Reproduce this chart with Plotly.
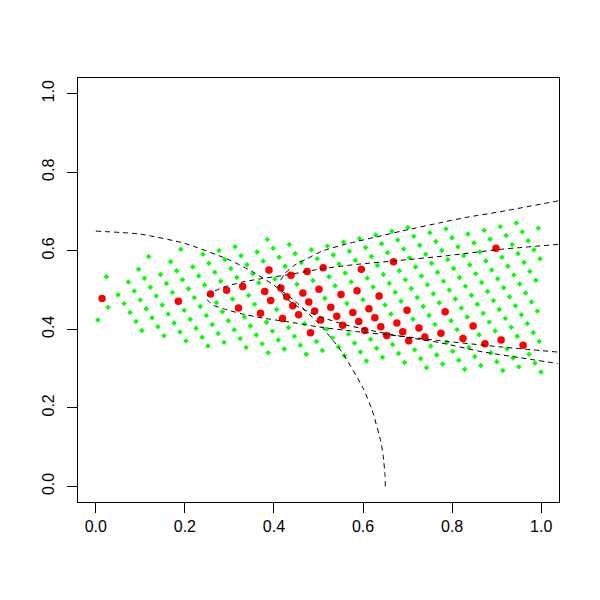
import plotly.graph_objects as go

# ---- data ----
green_x = [0.0236,
           0.0046, 0.0274, 0.0502, 0.0731, 0.0959, 0.1187,
           0.0636, 0.0864, 0.1092,
           0.0769, 0.0997, 0.1225, 0.1453, 0.1681, 0.1910,
           0.0902, 0.1130, 0.1358, 0.1586, 0.1815,
           0.1035, 0.1263, 0.1491, 0.1720, 0.1948, 0.2176, 0.2404,
           0.1396, 0.1625, 0.2081, 0.2309, 0.2537, 0.2766,
           0.1530, 0.1758, 0.1986, 0.2214, 0.2442, 0.2671, 0.2899, 0.3127,
           0.1891, 0.2119, 0.2347, 0.2804, 0.3032, 0.3260,
           0.2024, 0.2252, 0.2481, 0.2709, 0.3165, 0.3393, 0.3622, 0.3850,
           0.2386, 0.2614, 0.2842, 0.3070, 0.3526, 0.3755, 0.3983,
           0.2519, 0.2747, 0.2975, 0.3431, 0.3660, 0.4116, 0.4344,
           0.2880, 0.3108, 0.3336, 0.3565, 0.4021, 0.4249, 0.4477,
           0.3241, 0.3470, 0.4611, 0.4839,
           0.3375, 0.3603, 0.3831, 0.4059, 0.4516, 0.4972, 0.5200,
           0.3736, 0.3964, 0.4877, 0.5333, 0.5562,
           0.3869, 0.4097, 0.4326, 0.5236, 0.5464, 0.5693, 0.5921,
           0.4231, 0.4459, 0.4687, 0.5143, 0.5371, 0.5600, 0.5828, 0.6056, 0.6284,
           0.4592, 0.5733, 0.6189, 0.6417, 0.6646,
           0.4725, 0.4953, 0.5181, 0.5638, 0.6094, 0.6322, 0.6551, 0.6779, 0.7007,
           0.5086, 0.5315, 0.5999, 0.6227, 0.6456, 0.6912, 0.7140,
           0.5448, 0.5676, 0.6589, 0.6817, 0.7045, 0.7273, 0.7501,
           0.5581, 0.5809, 0.6494, 0.6722, 0.6950, 0.7178, 0.7406, 0.7635, 0.7863,
           0.5942, 0.6171, 0.6627, 0.6855, 0.7083, 0.7312, 0.7540, 0.7768, 0.7996,
           0.6076, 0.6304, 0.7217, 0.7445, 0.7673, 0.7901, 0.8129, 0.8357,
           0.6437, 0.6665, 0.7122, 0.7350, 0.7578, 0.7806, 0.8034, 0.8262, 0.8491, 0.8719,
           0.6798, 0.7483, 0.7711, 0.7939, 0.8167, 0.8396, 0.8624, 0.8852, 0.9080,
           0.6931, 0.7160, 0.7616, 0.8072, 0.8301, 0.8529, 0.8757, 0.9213, 0.9441,
           0.7293, 0.7521, 0.7977, 0.8206, 0.8434, 0.8662, 0.8890, 0.9118, 0.9346, 0.9575,
           0.7426, 0.7654, 0.7882, 0.8111, 0.8339, 0.8567, 0.8795, 0.9023, 0.9251, 0.9480, 0.9708, 0.9936,
           0.7787, 0.8016, 0.8700, 0.8928, 0.9156, 0.9385, 0.9613, 0.9841,
           0.8149, 0.8377, 0.8605, 0.8833, 0.9061, 0.9290, 0.9518, 0.9746, 0.9974,
           0.8282, 0.8510, 0.8966, 0.9195, 0.9423, 0.9651, 0.9879,
           0.8643, 0.8872, 0.9328, 0.9556, 0.9784,
           0.9005, 0.9233, 0.9461, 0.9689, 0.9917,
           0.9138, 0.9366, 0.9822,
           0.9499, 0.9727, 0.9956,
           0.9861,
           0.9994]
green_y = [0.5337,
           0.4235, 0.4558, 0.4881, 0.5204, 0.5528, 0.5851,
           0.4653, 0.4976, 0.5300,
           0.4425, 0.4748, 0.5072, 0.5395, 0.5718, 0.6041,
           0.4197, 0.4520, 0.4844, 0.5167, 0.5490,
           0.3969, 0.4293, 0.4616, 0.4939, 0.5262, 0.5585, 0.5908,
           0.4065, 0.4388, 0.5034, 0.5357, 0.5680, 0.6003,
           0.3837, 0.4160, 0.4483, 0.4806, 0.5129, 0.5452, 0.5775, 0.6099,
           0.3932, 0.4255, 0.4578, 0.5224, 0.5547, 0.5871,
           0.3704, 0.4027, 0.4350, 0.4673, 0.5319, 0.5643, 0.5966, 0.6289,
           0.3799, 0.4122, 0.4445, 0.4768, 0.5415, 0.5738, 0.6061,
           0.3571, 0.3894, 0.4217, 0.4863, 0.5187, 0.5833, 0.6156,
           0.3666, 0.3989, 0.4312, 0.4636, 0.5282, 0.5605, 0.5928,
           0.3761, 0.4084, 0.5700, 0.6024,
           0.3533, 0.3856, 0.4180, 0.4503, 0.5149, 0.5795, 0.6118,
           0.3628, 0.3952, 0.5244, 0.5890, 0.6214,
           0.3400, 0.3724, 0.4047, 0.5339, 0.5662, 0.5986, 0.6309,
           0.3496, 0.3819, 0.4142, 0.4788, 0.5111, 0.5434, 0.5758, 0.6081, 0.6404,
           0.3591, 0.5207, 0.5853, 0.6176, 0.6499,
           0.3363, 0.3686, 0.4009, 0.4655, 0.5302, 0.5625, 0.5948, 0.6271, 0.6594,
           0.3458, 0.3781, 0.4751, 0.5074, 0.5397, 0.6043, 0.6366,
           0.3553, 0.3876, 0.5169, 0.5492, 0.5815, 0.6138, 0.6461,
           0.3325, 0.3648, 0.4618, 0.4941, 0.5264, 0.5587, 0.5910, 0.6233, 0.6557,
           0.3420, 0.3743, 0.4390, 0.4713, 0.5036, 0.5359, 0.5682, 0.6005, 0.6329,
           0.3192, 0.3515, 0.4808, 0.5131, 0.5454, 0.5777, 0.6101, 0.6424,
           0.3287, 0.3611, 0.4257, 0.4580, 0.4903, 0.5226, 0.5549, 0.5873, 0.6196, 0.6519,
           0.3383, 0.4352, 0.4675, 0.4998, 0.5321, 0.5645, 0.5968, 0.6291, 0.6614,
           0.3155, 0.3478, 0.4124, 0.4770, 0.5094, 0.5417, 0.5740, 0.6386, 0.6709,
           0.3250, 0.3573, 0.4219, 0.4542, 0.4866, 0.5189, 0.5512, 0.5835, 0.6158, 0.6481,
           0.3022, 0.3345, 0.3668, 0.3991, 0.4314, 0.4638, 0.4961, 0.5284, 0.5607, 0.5930, 0.6253, 0.6576,
           0.3117, 0.3440, 0.4410, 0.4733, 0.5056, 0.5379, 0.5702, 0.6025,
           0.3212, 0.3535, 0.3858, 0.4182, 0.4505, 0.4828, 0.5151, 0.5474, 0.5797,
           0.2984, 0.3307, 0.3954, 0.4277, 0.4600, 0.4923, 0.5246,
           0.3079, 0.3402, 0.4049, 0.4372, 0.4695,
           0.3175, 0.3498, 0.3821, 0.4144, 0.4467,
           0.2947, 0.3270, 0.3916,
           0.3042, 0.3365, 0.3688,
           0.3137,
           0.2909]

red_x = [0.0141, 0.1853, 0.2576, 0.2937, 0.3298, 0.3203, 0.3888, 0.3793,
         0.3698, 0.3926, 0.4154, 0.4382, 0.4287, 0.4744, 0.4192, 0.4421,
         0.4649, 0.5105, 0.4554, 0.4782, 0.5010, 0.4915, 0.4820, 0.5048,
         0.5276, 0.5505, 0.5961, 0.5410, 0.5866, 0.5543, 0.5771, 0.6684,
         0.5904, 0.6132, 0.6360, 0.6037, 0.6265, 0.6399, 0.6532, 0.6760,
         0.6988, 0.6893, 0.7026, 0.7255, 0.7388, 0.7844, 0.8985, 0.7749,
         0.8244, 0.8472, 0.8738, 0.9100, 0.9594]
red_y = [0.4786, 0.4711, 0.4901, 0.4996, 0.5091, 0.4540, 0.5510, 0.4959,
         0.4408, 0.4731, 0.5054, 0.5377, 0.4826, 0.5472, 0.4275, 0.4598,
         0.4921, 0.5567, 0.4370, 0.4693, 0.5016, 0.4465, 0.3914, 0.4237,
         0.4560, 0.4883, 0.5530, 0.4332, 0.4978, 0.4104, 0.4427, 0.5720,
         0.4199, 0.4523, 0.4846, 0.3971, 0.4295, 0.4067, 0.3839, 0.4162,
         0.4485, 0.3934, 0.3706, 0.4029, 0.3801, 0.4447, 0.6063, 0.3896,
         0.3763, 0.4086, 0.3630, 0.3726, 0.3593]

# quarter circle
arc_x = [0.0, 0.1, 0.2, 0.3, 0.35, 0.4, 0.45, 0.5, 0.55, 0.6, 0.62, 0.64, 0.645, 0.6495, 0.65]
arc_y = [0.65, 0.6423, 0.6185, 0.5766, 0.5477, 0.5123, 0.4690, 0.4153, 0.3464, 0.25,
         0.1952, 0.1136, 0.0805, 0.0255, 0.0]

# curve with vertex near (0.25, 0.48)
cd_x = [1.0381, 0.9058, 0.7937, 0.6816, 0.5852, 0.5112, 0.4350, 0.3744, 0.3296, 0.2848,
        0.2623, 0.2511, 0.2489, 0.2511, 0.2623, 0.2848, 0.3296, 0.3744, 0.4350, 0.5022,
        0.5852, 0.6816, 0.7713, 0.9058, 1.0381]
cd_y = [0.6161, 0.6033, 0.5880, 0.5753, 0.5651, 0.5548, 0.5395, 0.5293, 0.5204, 0.5064,
        0.4949, 0.4860, 0.4809, 0.4745, 0.4617, 0.4528, 0.4388, 0.4286, 0.4184, 0.4056,
        0.3941, 0.3827, 0.3712, 0.3554, 0.3418]

# curve with vertex near (0.41, 0.51)
be_x = [1.0381, 0.9058, 0.8318, 0.7713, 0.6883, 0.6300, 0.5628, 0.5090, 0.4731, 0.4507,
        0.4350, 0.4238, 0.4148, 0.4126, 0.4148, 0.4238, 0.4350, 0.4507, 0.4731, 0.5090,
        0.5628, 0.6300, 0.6883, 0.7713, 0.8677, 0.9507, 1.0381]
be_y = [0.7270, 0.6990, 0.6850, 0.6709, 0.6505, 0.6352, 0.6173, 0.5995, 0.5791, 0.5663,
        0.5536, 0.5408, 0.5242, 0.5115, 0.4987, 0.4834, 0.4719, 0.4592, 0.4464, 0.4298,
        0.4107, 0.3941, 0.3814, 0.3661, 0.3426, 0.3278, 0.3125]

tick_vals = [0.0, 0.2, 0.4, 0.6, 0.8, 1.0]
tick_text = ["0.0", "0.2", "0.4", "0.6", "0.8", "1.0"]

fig = go.Figure()
fig.add_trace(go.Scatter(x=green_x, y=green_y, mode="markers",
                         marker=dict(symbol="diamond", size=4.2, color="#00FF00", line=dict(width=0)),
                         hoverinfo="skip", showlegend=False))
fig.add_trace(go.Scatter(x=red_x, y=red_y, mode="markers",
                         marker=dict(symbol="circle", size=7.5, color="#FF0000", line=dict(width=0)),
                         hoverinfo="skip", showlegend=False))
for cx, cy in [(arc_x, arc_y), (cd_x, cd_y), (be_x, be_y)]:
    fig.add_trace(go.Scatter(x=cx, y=cy, mode="lines",
                             line=dict(color="black", width=1, dash="5px,4px", shape="spline", smoothing=0.6),
                             hoverinfo="skip", showlegend=False))

font = dict(family="Liberation Sans, Arial, Helvetica, sans-serif", size=16, color="black")
axis_common = dict(range=[-0.04, 1.04], tickvals=tick_vals, ticktext=tick_text,
                   ticks="outside", ticklen=10, tickwidth=1, tickcolor="black",
                   showline=True, linecolor="black", linewidth=1, mirror=True,
                   showgrid=False, zeroline=False, tickfont=font)
fig.update_layout(width=592, height=592,
                  margin=dict(l=70, r=41, t=70, b=98),
                  paper_bgcolor="white", plot_bgcolor="white",
                  xaxis=axis_common,
                  yaxis=dict(**axis_common, tickangle=-90, ticklabelstandoff=7))
fig.write_html("out.html")
